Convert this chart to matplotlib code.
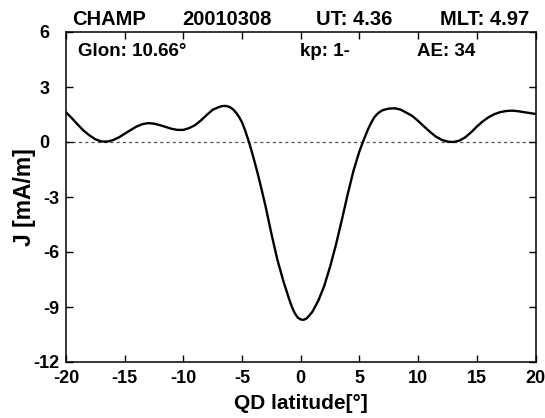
import matplotlib
matplotlib.use("Agg")
import matplotlib.pyplot as plt

plt.rcParams['font.family'] = ['Liberation Sans', 'DejaVu Sans']
plt.rcParams['font.weight'] = 'bold'

qd_lat = [-20.0, -19.5, -19.0, -18.5, -18.0, -17.5, -17.0, -16.5, -16.0, -15.5,
          -15.0, -14.5, -14.0, -13.5, -13.0, -12.5, -12.0, -11.5, -11.0, -10.5,
          -10.0, -9.5, -9.0, -8.5, -8.0, -7.5, -7.0, -6.75, -6.5, -6.25,
          -6.0, -5.75, -5.5, -5.25, -5.0, -4.75, -4.5, -4.25, -4.0, -3.75,
          -3.5, -3.0, -2.5, -2.0, -1.5, -1.0, -0.75, -0.5, -0.25, 0.0,
          0.25, 0.5, 0.75, 1.0, 1.5, 2.0, 2.5, 3.0, 3.5, 4.0,
          4.5, 5.0, 5.25, 5.5, 5.75, 6.0, 6.25, 6.5, 6.75, 7.0,
          7.5, 8.0, 8.5, 9.0, 9.5, 10.0, 10.5, 11.0, 11.5, 12.0,
          12.5, 13.0, 13.5, 14.0, 14.5, 15.0, 15.5, 16.0, 16.5, 17.0,
          17.5, 18.0, 18.5, 19.0, 19.5, 20.0]
current_j = [1.62, 1.30, 0.95, 0.62, 0.36, 0.15, 0.03, 0.02, 0.10, 0.25,
             0.45, 0.65, 0.84, 0.97, 1.03, 1.00, 0.92, 0.82, 0.72, 0.66,
             0.66, 0.76, 0.92, 1.18, 1.48, 1.76, 1.90, 1.95, 1.97, 1.95,
             1.89, 1.77, 1.59, 1.36, 1.07, 0.65, 0.17, -0.35, -0.92, -1.52,
             -2.15, -3.50, -5.00, -6.40, -7.55, -8.55, -9.00, -9.35, -9.58, -9.68,
             -9.70, -9.62, -9.45, -9.25, -8.65, -7.85, -6.80, -5.60, -4.25, -2.85,
             -1.55, -0.50, -0.08, 0.33, 0.72, 1.05, 1.33, 1.52, 1.65, 1.74,
             1.82, 1.84, 1.77, 1.60, 1.42, 1.15, 0.85, 0.56, 0.30, 0.12,
             0.02, 0.00, 0.07, 0.25, 0.52, 0.84, 1.12, 1.35, 1.52, 1.63,
             1.69, 1.71, 1.68, 1.63, 1.58, 1.53]

x_ticks = [-20, -15, -10, -5, 0, 5, 10, 15, 20]
y_ticks = [6, 3, 0, -3, -6, -9, -12]
y_tick_labels = ["6  ", "3  ", "0  ", "-3", "-6", "-9", "-12"]

header_texts = ["CHAMP", "20010308", "UT: 4.36", "MLT: 4.97"]
info_texts = ["Glon: 10.66\u00b0", "kp: 1-", "AE: 34"]

W, H = 545, 418
fig = plt.figure(figsize=(W / 100, H / 100), dpi=100)
ax = fig.add_axes([66 / W, 1 - 362 / H, (535.5 - 66) / W, (362 - 32) / H])

ax.axhline(0, color='#555555', lw=0.9, ls=(0, (2.5, 2.5)), zorder=1)
ax.plot(qd_lat, current_j, color='black', lw=1.7, zorder=2,
        solid_joinstyle='round', solid_capstyle='round')

ax.set_xlim(-20, 20)
ax.set_ylim(-12, 6)
ax.set_xticks(x_ticks)
ax.set_yticks(y_ticks)
ax.set_xticklabels([str(v) for v in x_ticks], fontsize=13, fontweight='bold')
ax.set_yticklabels(y_tick_labels, fontsize=13, fontweight='bold')
ax.tick_params(axis='x', direction='in', top=True, bottom=True, length=5, width=1.0, pad=6)
ax.tick_params(axis='y', direction='in', left=True, right=True, length=5, width=1.0, pad=4.5)
for s in ax.spines.values():
    s.set_linewidth(1.1)

ax.set_xlabel("QD latitude[\u00b0]", fontsize=15, fontweight='bold', labelpad=5)
ax.set_ylabel("J [mA/m]", fontsize=16.5, fontweight='bold')
ax.yaxis.set_label_coords(-0.064, 0.5)

hx = [72, 182, 316, 440]
for t, x in zip(header_texts, hx):
    fig.text(x / W, 1 - 25 / H, t, fontsize=14.5, fontweight='bold', ha='left', va='baseline')

ix = [78, 300, 417]
for t, x in zip(info_texts, ix):
    fig.text(x / W, 1 - 56 / H, t, fontsize=13.5, fontweight='bold', ha='left', va='baseline')

fig.savefig("out.png", dpi=100)
